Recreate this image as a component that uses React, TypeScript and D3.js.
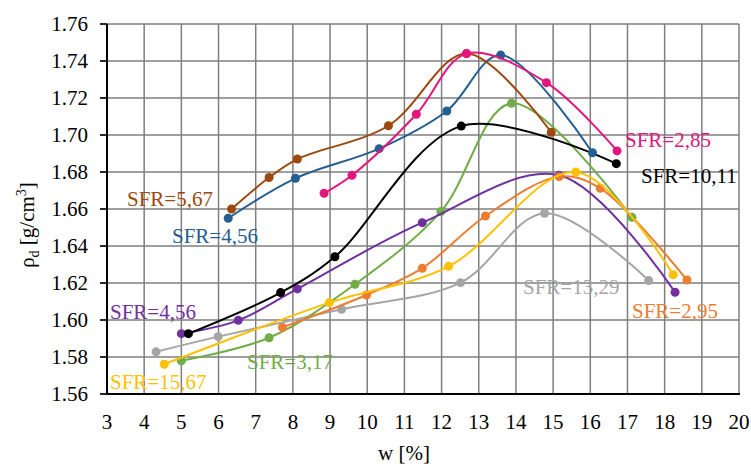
import React from 'react';
import * as d3 from 'd3';

// x ticks / y ticks
const xTicks = [3, 4, 5, 6, 7, 8, 9, 10, 11, 12, 13, 14, 15, 16, 17, 18, 19, 20];
const yTicks = [1.56, 1.58, 1.6, 1.62, 1.64, 1.66, 1.68, 1.7, 1.72, 1.74, 1.76];

// each series: w [%] and rho_d [g/cm3]
const grayW = [4.32, 5.99, 9.31, 12.51, 14.77, 17.57];
const grayR = [1.5828, 1.591, 1.6058, 1.6202, 1.6577, 1.6213];

const greenW = [5.0, 7.36, 9.67, 11.98, 13.88, 17.12];
const greenR = [1.578, 1.5904, 1.6193, 1.6586, 1.7171, 1.6555];

const purpleW = [5.0, 6.53, 8.12, 11.48, 15.16, 18.28];
const purpleR = [1.5926, 1.5998, 1.6168, 1.6526, 1.6782, 1.615];

const orangeW = [7.72, 9.98, 11.48, 13.18, 15.16, 16.27, 18.6];
const orangeR = [1.596, 1.6135, 1.628, 1.6562, 1.6775, 1.6712, 1.6216];

const yellowW = [4.54, 8.98, 12.19, 15.61, 18.23];
const yellowR = [1.5761, 1.6094, 1.629, 1.68, 1.6245];

const blackW = [5.19, 7.67, 9.13, 12.53, 16.7];
const blackR = [1.5926, 1.6148, 1.6342, 1.7048, 1.6845];

const blueW = [6.26, 8.07, 10.32, 12.14, 13.59, 16.06];
const blueR = [1.655, 1.6766, 1.6926, 1.713, 1.7432, 1.6904];

const brownW = [6.35, 7.36, 8.12, 10.57, 12.67, 14.95];
const brownR = [1.66, 1.677, 1.687, 1.705, 1.744, 1.7015];

const pinkW = [8.84, 9.59, 11.32, 12.67, 14.82, 16.72];
const pinkR = [1.6685, 1.6782, 1.7112, 1.744, 1.7283, 1.6914];

const series = [
  { name: 'SFR=13,29', color: '#A5A5A5', w: grayW, r: grayR, lx: 523, ly: 294 },
  { name: 'SFR=3,17', color: '#70AD47', w: greenW, r: greenR, lx: 247, ly: 369 },
  { name: 'SFR=4,56', color: '#7030A0', w: purpleW, r: purpleR, lx: 110, ly: 319 },
  { name: 'SFR=2,95', color: '#ED7D31', w: orangeW, r: orangeR, lx: 632, ly: 318 },
  { name: 'SFR=15,67', color: '#FFC000', w: yellowW, r: yellowR, lx: 110, ly: 389 },
  { name: 'SFR=10,11', color: '#000000', w: blackW, r: blackR, lx: 641, ly: 183 },
  { name: 'SFR=4,56', color: '#255E91', w: blueW, r: blueR, lx: 172, ly: 243 },
  { name: 'SFR=5,67', color: '#9E480E', w: brownW, r: brownR, lx: 127, ly: 206 },
  { name: 'SFR=2,85', color: '#E6157E', w: pinkW, r: pinkR, lx: 625, ly: 147 },
];

const W = 751, H = 466;
const left = 107, right = 739, top = 24, bottom = 394;

export default function App() {
  const x = d3.scaleLinear().domain([3, 20]).range([left, right]);
  const y = d3.scaleLinear().domain([1.56, 1.76]).range([bottom, top]);
  const line = d3.line<[number, number]>()
    .x(d => x(d[0]))
    .y(d => y(d[1]))
    .curve(d3.curveCatmullRom.alpha(0.5));

  const font = '"Liberation Serif", "Times New Roman", serif';

  return (
    <div style={{ position: 'absolute', left: 0, top: 0 }}>
      <svg width={W} height={H} style={{ display: 'block', background: '#fff' }} fontFamily={font}>
        {/* grid */}
        {xTicks.map(t => (
          <line key={'gx' + t} x1={x(t)} x2={x(t)} y1={top} y2={bottom} stroke="#7f7f7f" strokeWidth={1.5} />
        ))}
        {yTicks.map(t => (
          <line key={'gy' + t} x1={left - 7} x2={right} y1={y(t)} y2={y(t)} stroke="#7f7f7f" strokeWidth={1.5} />
        ))}
        {/* axes */}
        <line x1={left} x2={left} y1={top} y2={bottom} stroke="#000" strokeWidth={2} />
        <line x1={left} x2={right + 1} y1={bottom} y2={bottom} stroke="#000" strokeWidth={2} />
        {yTicks.map(t => (
          <line key={'ty' + t} x1={left - 7} x2={left} y1={y(t)} y2={y(t)} stroke="#000" strokeWidth={1.5} />
        ))}

        {/* tick labels */}
        {yTicks.map(t => (
          <text key={'ly' + t} x={88} y={y(t) + 7} textAnchor="end" fontSize={21} fill="#000">
            {t.toFixed(2)}
          </text>
        ))}
        {xTicks.map(t => (
          <text key={'lx' + t} x={x(t)} y={429} textAnchor="middle" fontSize={21} fill="#000">
            {t}
          </text>
        ))}

        {/* axis titles */}
        <text x={404} y={460} textAnchor="middle" fontSize={21} fill="#000">w [%]</text>
        <text transform="translate(34,225) rotate(-90)" textAnchor="middle" fontSize={21} fill="#000">
          ρ<tspan fontSize={14} dy={5}>d</tspan>
          <tspan dy={-5}> [g/cm</tspan>
          <tspan fontSize={14} dy={-8}>3</tspan>
          <tspan dy={8}>]</tspan>
        </text>

        {/* series */}
        {series.map((s, i) => {
          const pts = s.w.map((w, j) => [w, s.r[j]] as [number, number]);
          return (
            <g key={'s' + i}>
              <path d={line(pts) || ''} fill="none" stroke={s.color} strokeWidth={2} />
              {pts.map((p, j) => (
                <circle key={j} cx={x(p[0])} cy={y(p[1])} r={4.5} fill={s.color} />
              ))}
            </g>
          );
        })}

        {/* labels */}
        {series.map((s, i) => (
          <text key={'n' + i} x={s.lx} y={s.ly} fontSize={21} fill={s.color}>{s.name}</text>
        ))}
      </svg>
    </div>
  );
}
